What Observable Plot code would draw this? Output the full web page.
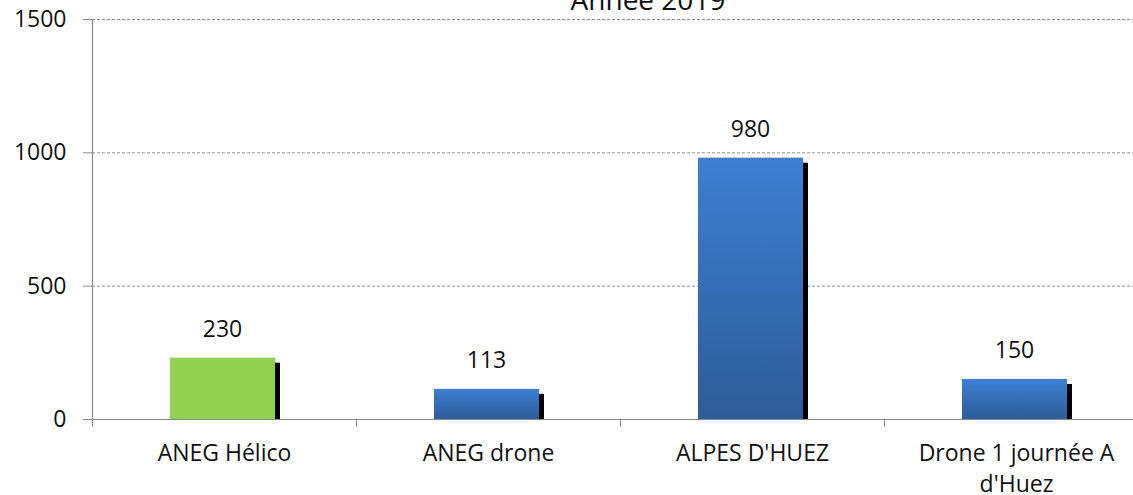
<!DOCTYPE html>
<html>
<head>
<meta charset="utf-8">
<script src="https://cdn.jsdelivr.net/npm/d3@7"></script>
<script src="https://cdn.jsdelivr.net/npm/@observablehq/plot@0.6"></script>
<style>
  html, body { margin: 0; padding: 0; background: #fff; overflow: hidden; }
</style>
</head>
<body>
<div id="chart"></div>
<script>
const title = "Année 2019";
const categories = ["ANEG Hélico", "ANEG drone", "ALPES D'HUEZ", "Drone 1 journée A d'Huez"];
const values = [230, 113, 980, 150];
const tickLabels = ["ANEG Hélico", "ANEG drone", "ALPES D'HUEZ", "Drone 1 journée A\nd'Huez"];
const yTicks = [0, 500, 1000, 1500];
const gridValues = [500, 1000, 1500];

const data = categories.map((c, i) => ({category: c, value: values[i], label: tickLabels[i]}));
const green = data.filter((d, i) => i === 0);
const blue = data.filter((d, i) => i !== 0);

const axisGray = "#8a8a8a";
const font = "'Open Sans', sans-serif";

const defs = () => {
  const d = d3.create("svg:defs");
  const g = d.append("linearGradient").attr("id", "blueGrad")
    .attr("x1", 0).attr("y1", 0).attr("x2", 0).attr("y2", 1);
  g.append("stop").attr("offset", "0%").attr("stop-color", "#3d7fd3");
  g.append("stop").attr("offset", "100%").attr("stop-color", "#2d5c99");
  return d.node();
};

const chart = Plot.plot({
  width: 1148,
  height: 495,
  marginLeft: 92,
  marginRight: 0,
  marginTop: 19,
  marginBottom: 76,
  style: {fontFamily: font, fontSize: "23px", color: "#111", background: "#fff", maxWidth: "none"},
  x: {domain: categories, paddingInner: 0, paddingOuter: 0, label: null},
  y: {domain: [0, 1500], label: null},
  marks: [
    defs,
    Plot.ruleY(gridValues, {stroke: "#8c8c8c", strokeDasharray: "3,2", strokeWidth: 1}),
    Plot.barY(data, {x: "category", y: "value", fill: "#000", dx: 5, insetTop: 5, insetLeft: 78, insetRight: 81}),
    Plot.barY(green, {x: "category", y: "value", fill: "#92d050", insetLeft: 78, insetRight: 81}),
    Plot.barY(blue, {x: "category", y: "value", fill: "url(#blueGrad)", insetLeft: 78, insetRight: 81}),
    Plot.text(data, {x: "category", y: "value", text: d => String(d.value), dx: -2, dy: -29, fontSize: 23, fill: "#111"}),
    Plot.ruleY([0], {stroke: axisGray, strokeWidth: 1.2}),
    Plot.frame({anchor: "left", stroke: axisGray, strokeWidth: 1.2}),
    Plot.axisY({ticks: yTicks, tickSize: 9, tickPadding: 17, stroke: axisGray, fontSize: 23, tickFormat: d => String(d)}),
    Plot.axisX({tickSize: 8, text: null, dx: -132, stroke: axisGray}),
    Plot.axisX({tickSize: 0, tickPadding: 19, fontSize: 23, lineHeight: 1.37,
      tickFormat: c => tickLabels[categories.indexOf(c)]})
  ]
});

d3.select(chart).append("text")
  .attr("x", 648).attr("y", 10)
  .attr("text-anchor", "middle")
  .attr("font-family", font)
  .attr("font-size", 28)
  .attr("fill", "#111")
  .text(title);

document.getElementById("chart").appendChild(chart);
</script>
</body>
</html>
